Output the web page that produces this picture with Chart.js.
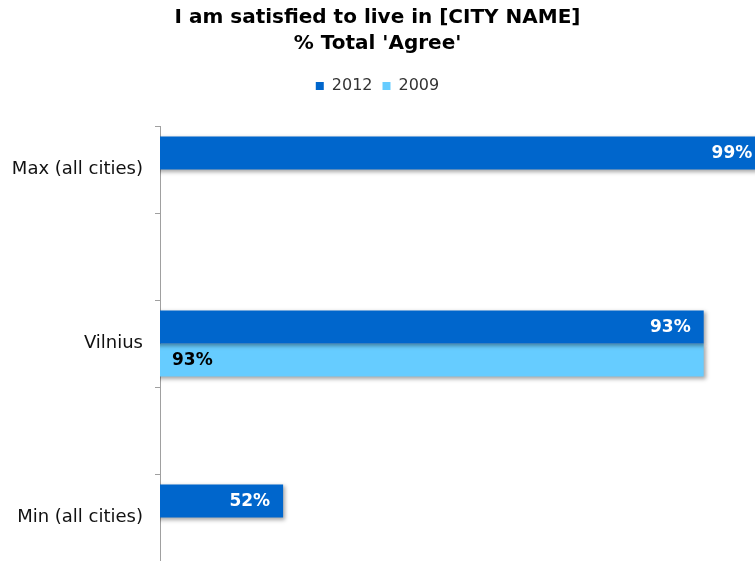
<!DOCTYPE html>
<html>
<head>
<meta charset="utf-8">
<script src="https://cdn.jsdelivr.net/npm/chart.js@4/dist/chart.umd.min.js"></script>
<style>
  html, body { margin: 0; padding: 0; background: #fff; }
  canvas { display: block; }
</style>
</head>
<body>
<canvas id="cityChart" width="755" height="561"></canvas>
<script>
// categories (blank slots keep the gaps between groups)
const categories = ['Max (all cities)', '', 'Vilnius', '', 'Min (all cities)'];
const values2012 = [99, null, 93, null, 52];
const values2009 = [null, null, 93, null, null];
const seriesNames = ['2012', '2009'];
const titleLines = ['I am satisfied to live in [CITY NAME]', "% Total 'Agree'"];

const ctx = document.getElementById('cityChart').getContext('2d');

// soft shadow under the bars
const barShadow = {
    id: 'barShadow',
    beforeDatasetsDraw(chart) {
        const c = chart.ctx;
        c.save();
        c.shadowColor = 'rgba(0,0,0,0.35)';
        c.shadowBlur = 4;
        c.shadowOffsetX = 2;
        c.shadowOffsetY = 2;
    },
    afterDatasetsDraw(chart) {
        chart.ctx.restore();
    }
};

// value labels on the bars
const valueLabels = {
    id: 'valueLabels',
    afterDatasetsDraw(chart) {
        const c = chart.ctx;
        const left = chart.chartArea.left;
        c.save();
        c.font = 'bold 17px "DejaVu Sans", Verdana, sans-serif';
        c.textBaseline = 'middle';
        chart.data.datasets.forEach((ds, i) => {
            const meta = chart.getDatasetMeta(i);
            meta.data.forEach((bar, j) => {
                const v = ds.data[j];
                if (v == null) return;
                if (i === 0) {
                    c.fillStyle = '#ffffff';
                    c.textAlign = 'right';
                    c.fillText(v + '%', bar.x - 13, bar.y + 1);
                } else {
                    c.fillStyle = '#000000';
                    c.textAlign = 'left';
                    c.fillText(v + '%', Math.max(bar.base, left) + 12, bar.y + 1);
                }
            });
        });
        c.restore();
    }
};

// extra room under the legend
const legendGap = {
    id: 'legendGap',
    beforeInit(chart) {
        const fit = chart.legend.fit;
        chart.legend.fit = function () {
            fit.bind(chart.legend)();
            this.height += 22;
        };
    }
};

new Chart(ctx, {
    type: 'bar',
    data: {
        labels: categories,
        datasets: [
            { label: seriesNames[0], data: values2012, backgroundColor: '#0066CC' },
            { label: seriesNames[1], data: values2009, backgroundColor: '#66CCFF' }
        ]
    },
    plugins: [barShadow, valueLabels, legendGap],
    options: {
        indexAxis: 'y',
        responsive: false,
        animation: false,
        categoryPercentage: 0.76,
        barPercentage: 1.0,
        layout: { padding: 0 },
        scales: {
            x: {
                display: false,
                min: 40,
                max: 98
            },
            y: {
                afterFit: (s) => {
                    s.width = 160;
                    s.paddingTop = 0;
                    s.paddingBottom = 0;
                },
                border: { display: true, color: '#a0a0a0', width: 1 },
                grid: { drawOnChartArea: false, drawTicks: true, tickLength: 5, color: '#a0a0a0' },
                ticks: {
                    color: '#111',
                    padding: 12,
                    font: { family: '"DejaVu Sans", Verdana, sans-serif', size: 18 }
                }
            }
        },
        plugins: {
            title: {
                display: true,
                text: titleLines,
                color: '#000',
                font: { family: '"DejaVu Sans", Verdana, sans-serif', size: 20, weight: 'bold', lineHeight: 1.3 },
                padding: { top: 5, bottom: 11 }
            },
            legend: {
                position: 'top',
                labels: {
                    boxWidth: 8,
                    boxHeight: 8,
                    color: '#333',
                    padding: 10,
                    font: { family: '"DejaVu Sans", Verdana, sans-serif', size: 16 }
                }
            },
            tooltip: { enabled: false }
        }
    }
});
</script>
</body>
</html>
